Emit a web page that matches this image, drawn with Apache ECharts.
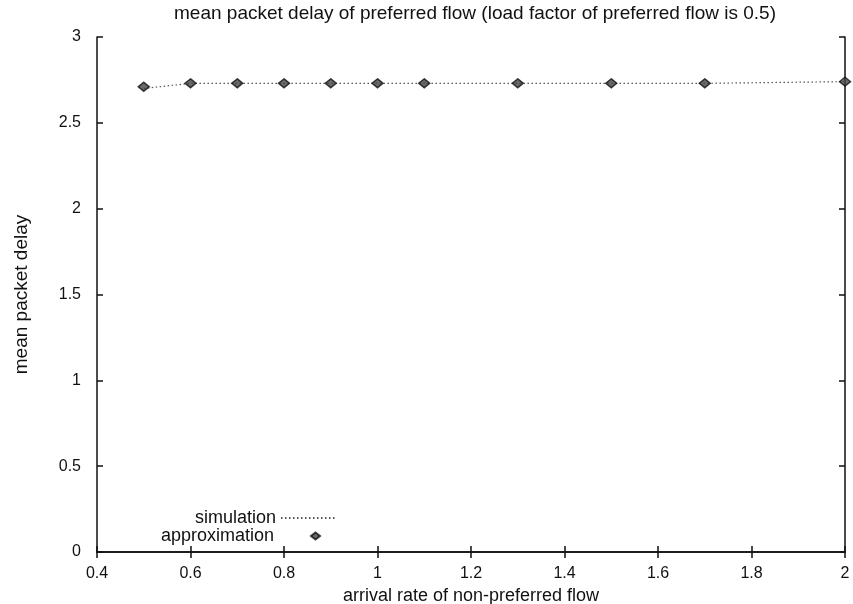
<!DOCTYPE html>
<html>
<head>
<meta charset="utf-8">
<script src="https://cdn.jsdelivr.net/npm/echarts@6/dist/echarts.min.js"></script>
<style>
  html, body { margin: 0; padding: 0; background: #fff; }
  #chart { width: 853px; height: 604px; }
</style>
</head>
<body>
<div id="chart"></div>
<script>
// arrival rates of the non-preferred flow
const arrivalRates = [0.5, 0.6, 0.7, 0.8, 0.9, 1.0, 1.1, 1.3, 1.5, 1.7, 2.0];
// mean packet delay of the preferred flow
const simulationDelay    = [2.70, 2.73, 2.73, 2.73, 2.73, 2.73, 2.73, 2.73, 2.73, 2.73, 2.74];
const approximationDelay = [2.71, 2.73, 2.73, 2.73, 2.73, 2.73, 2.73, 2.73, 2.73, 2.73, 2.74];
const xTicks = [0.4, 0.6, 0.8, 1, 1.2, 1.4, 1.6, 1.8, 2];
const yTicks = [0, 0.5, 1, 1.5, 2, 2.5, 3];

const font = 'Liberation Sans, Arial, Helvetica, sans-serif';
const pairs = (xs, ys) => xs.map((x, i) => [x, ys[i]]);

const frameAxis = {
  axisLine: { show: true, lineStyle: { color: '#111', width: 1.5 } },
  axisTick: { show: true, inside: true, length: 6, lineStyle: { color: '#111', width: 1.5 } },
  splitLine: { show: false }
};

const legendText = { fontFamily: font, fontSize: 18, color: '#111' };

const chart = echarts.init(document.getElementById('chart'));
chart.setOption({
  backgroundColor: '#fff',
  animation: false,
  title: {
    text: 'mean packet delay of preferred flow (load factor of preferred flow is 0.5)',
    left: 470, top: -1, textAlign: 'center',
    textStyle: { fontFamily: font, fontSize: 19, fontWeight: 'normal', color: '#111' }
  },
  legend: [
    {
      orient: 'vertical', align: 'right', padding: 0,
      right: 853 - 338, top: 509,
      itemWidth: 56, itemHeight: 8,
      textStyle: legendText,
      data: [{ name: 'simulation', itemStyle: { opacity: 0 } }]
    },
    {
      orient: 'vertical', align: 'right',
      right: 853 - 326, top: 522,
      itemWidth: 9, itemHeight: 7,
      textStyle: Object.assign({ padding: [0, 32, 0, 0] }, legendText),
      data: [{ name: 'approximation', icon: 'diamond' }]
    }
  ],
  grid: { left: 97, right: 8, top: 37, bottom: 52, outerBoundsMode: 'none', containLabel: false },
  xAxis: [
    Object.assign({
      type: 'value', min: 0.4, max: 2, interval: 0.2, position: 'bottom',
      name: 'arrival rate of non-preferred flow', nameLocation: 'middle', nameGap: 33,
      nameTextStyle: { fontFamily: font, fontSize: 18, color: '#111' },
      axisLabel: {
        fontFamily: font, fontSize: 16, color: '#111', margin: 14,
        formatter: v => String(xTicks.find(t => Math.abs(t - v) < 1e-6) ?? '')
      }
    }, frameAxis),
    Object.assign({
      type: 'value', min: 0.4, max: 2, interval: 0.2, position: 'top',
      axisLabel: { show: false }
    }, frameAxis)
  ],
  yAxis: [
    Object.assign({
      type: 'value', min: 0, max: 3, interval: 0.5, position: 'left',
      name: 'mean packet delay', nameLocation: 'middle', nameGap: 66, nameRotate: 90,
      nameTextStyle: { fontFamily: font, fontSize: 19, color: '#111' },
      axisLabel: {
        fontFamily: font, fontSize: 16, color: '#111', margin: 16,
        formatter: v => String(yTicks.find(t => Math.abs(t - v) < 1e-6) ?? '')
      }
    }, frameAxis),
    Object.assign({
      type: 'value', min: 0, max: 3, interval: 0.5, position: 'right',
      axisLabel: { show: false }
    }, frameAxis)
  ],
  series: [
    {
      name: 'simulation',
      type: 'line',
      data: pairs(arrivalRates, simulationDelay),
      showSymbol: false,
      symbol: 'none',
      lineStyle: { color: '#555', width: 1.2, type: [1.5, 2.5] },
      itemStyle: { color: '#555' },
      z: 2
    },
    {
      name: 'approximation',
      type: 'scatter',
      data: pairs(arrivalRates, approximationDelay),
      symbol: 'diamond',
      symbolSize: [11, 9],
      itemStyle: { color: '#444', borderColor: '#111', borderWidth: 1.5 },
      z: 3
    }
  ]
});
</script>
</body>
</html>
